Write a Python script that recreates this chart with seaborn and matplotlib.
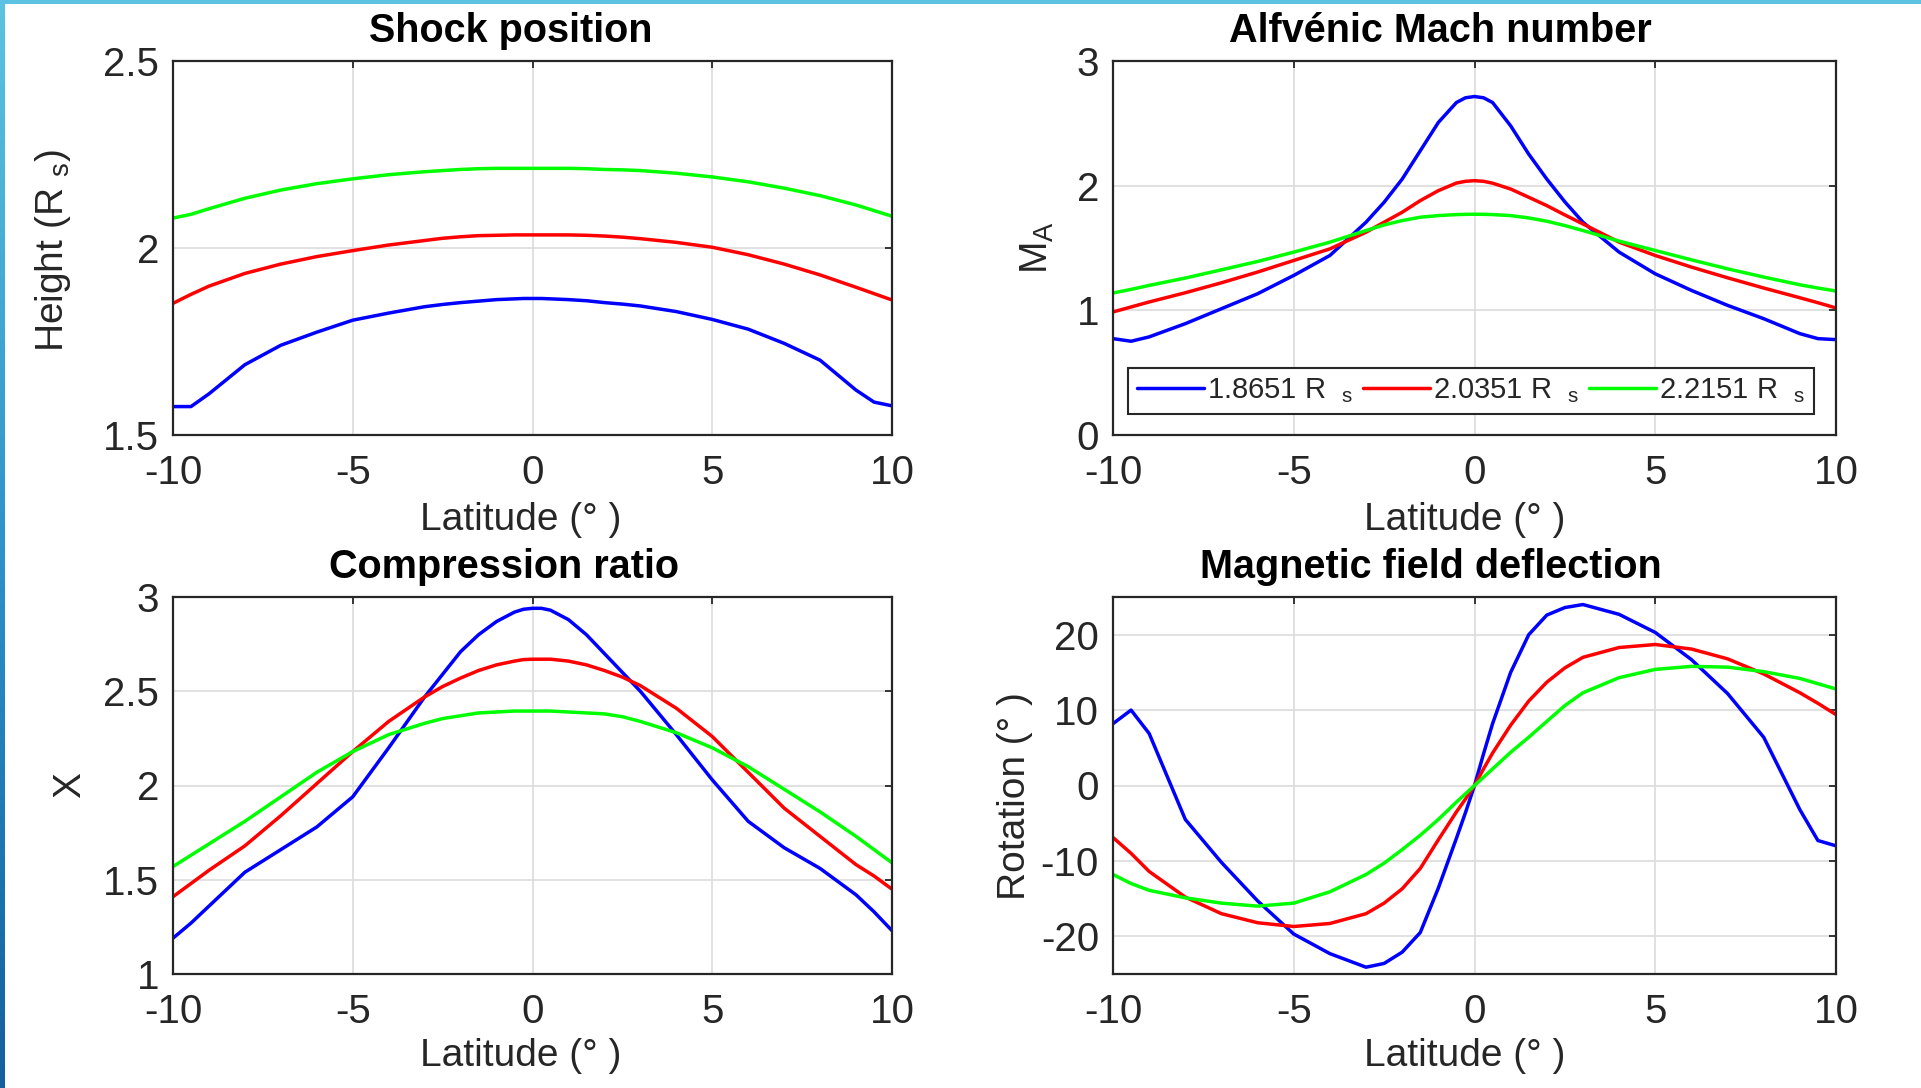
import numpy as np
import pandas as pd
import matplotlib
matplotlib.use("Agg")
import matplotlib.pyplot as plt
import seaborn as sns
from matplotlib.patches import Rectangle
from matplotlib.ticker import FuncFormatter
from matplotlib.colors import LinearSegmentedColormap

# ---------------- data ----------------
lat = [-10, -9.5, -9, -8, -7, -6, -5, -4, -3, -2.5, -2, -1.5, -1, -0.5, -0.25, 0,
       0.25, 0.5, 1, 1.5, 2, 2.5, 3, 4, 5, 6, 7, 8, 9, 9.5, 10]
radii = ["1.8651", "2.0351", "2.2151"]

shock_blue = [1.576, 1.576, 1.61, 1.688, 1.74, 1.775, 1.807, 1.826, 1.843, 1.849, 1.854, 1.858, 1.862, 1.864, 1.865, 1.865,
              1.865, 1.864, 1.862, 1.859, 1.854, 1.850, 1.845, 1.83, 1.809, 1.783, 1.745, 1.70, 1.62, 1.588, 1.578]
shock_red = [1.852, 1.876, 1.898, 1.932, 1.957, 1.977, 1.993, 2.008, 2.02, 2.026, 2.03, 2.033, 2.034, 2.035, 2.035, 2.035,
             2.035, 2.035, 2.035, 2.034, 2.032, 2.029, 2.025, 2.015, 2.002, 1.982, 1.957, 1.928, 1.895, 1.878, 1.861]
shock_green = [2.08, 2.09, 2.105, 2.133, 2.155, 2.172, 2.185, 2.196, 2.204, 2.207, 2.21, 2.212, 2.213, 2.213, 2.213, 2.213,
               2.213, 2.213, 2.213, 2.212, 2.21, 2.209, 2.207, 2.2, 2.19, 2.177, 2.16, 2.14, 2.115, 2.10, 2.085]

mach_blue = [0.773, 0.752, 0.787, 0.893, 1.013, 1.133, 1.28, 1.44, 1.707, 1.867, 2.053, 2.28, 2.507, 2.667, 2.705, 2.715,
             2.705, 2.667, 2.48, 2.253, 2.053, 1.87, 1.707, 1.467, 1.293, 1.16, 1.04, 0.933, 0.813, 0.773, 0.765]
mach_red = [0.987, 1.027, 1.067, 1.141, 1.221, 1.307, 1.40, 1.493, 1.627, 1.707, 1.787, 1.88, 1.96, 2.021, 2.035, 2.04,
            2.035, 2.02, 1.973, 1.907, 1.84, 1.765, 1.693, 1.547, 1.44, 1.347, 1.261, 1.179, 1.101, 1.061, 1.019]
mach_green = [1.139, 1.168, 1.20, 1.259, 1.325, 1.392, 1.467, 1.547, 1.64, 1.685, 1.72, 1.747, 1.76, 1.768, 1.77, 1.771,
              1.77, 1.768, 1.76, 1.741, 1.715, 1.68, 1.64, 1.555, 1.48, 1.405, 1.333, 1.267, 1.205, 1.179, 1.155]

comp_blue = [1.19, 1.27, 1.36, 1.54, 1.66, 1.78, 1.94, 2.2, 2.47, 2.59, 2.71, 2.8, 2.87, 2.92, 2.935, 2.94,
             2.94, 2.93, 2.88, 2.8, 2.7, 2.6, 2.5, 2.27, 2.03, 1.81, 1.67, 1.56, 1.42, 1.33, 1.23]
comp_red = [1.41, 1.48, 1.55, 1.68, 1.84, 2.01, 2.18, 2.34, 2.47, 2.525, 2.57, 2.61, 2.64, 2.66, 2.668, 2.67,
            2.67, 2.67, 2.66, 2.64, 2.61, 2.575, 2.53, 2.41, 2.26, 2.07, 1.88, 1.73, 1.58, 1.52, 1.45]
comp_green = [1.57, 1.63, 1.69, 1.81, 1.94, 2.07, 2.18, 2.27, 2.33, 2.355, 2.37, 2.385, 2.39, 2.395, 2.395, 2.395,
              2.395, 2.395, 2.39, 2.385, 2.38, 2.365, 2.34, 2.28, 2.2, 2.1, 1.98, 1.86, 1.73, 1.66, 1.59]

rot_blue = [8.2, 10.0, 6.9, -4.5, -10.2, -15.3, -19.7, -22.3, -24.1, -23.6, -22.1, -19.5, -13.6, -7.0, -3.6, 0.0,
            4.2, 8.2, 15.0, 20.0, 22.6, 23.6, 24.0, 22.7, 20.3, 16.7, 12.2, 6.4, -3.2, -7.3, -8.0]
rot_red = [-6.9, -9.0, -11.4, -14.8, -17.0, -18.2, -18.7, -18.3, -17.0, -15.6, -13.7, -11.0, -7.2, -3.5, -1.8, 0.0,
           2.2, 4.3, 8.0, 11.2, 13.7, 15.6, 17.0, 18.3, 18.7, 18.1, 16.8, 14.8, 12.3, 10.9, 9.4]
rot_green = [-11.8, -13.0, -13.9, -14.9, -15.6, -16.0, -15.6, -14.1, -11.8, -10.3, -8.5, -6.6, -4.5, -2.2, -1.1, 0.0,
             1.1, 2.2, 4.4, 6.4, 8.5, 10.6, 12.3, 14.3, 15.4, 15.8, 15.7, 15.1, 14.2, 13.5, 12.8]

# ---------------- style ----------------
sns.set_style("white")
plt.rcParams["font.family"] = ["Liberation Sans", "DejaVu Sans"]
plt.rcParams["mathtext.fontset"] = "custom"
plt.rcParams["mathtext.rm"] = "Liberation Sans"
plt.rcParams["mathtext.it"] = "Liberation Sans"
plt.rcParams["axes.unicode_minus"] = False

INK = "#262626"
palette = {"1.8651": "#0000ff", "2.0351": "#ff0000", "2.2151": "#00ff00"}

fig = plt.figure(figsize=(19.21, 10.88), dpi=100)
W, H = 1921, 1088


def ax_at(x0, x1, ytop, ybot):
    return fig.add_axes([x0 / W, 1 - ybot / H, (x1 - x0) / W, (ybot - ytop) / H])


def frame(df_vals):
    rows = []
    for r, vals in zip(radii, df_vals):
        for la, v in zip(lat, vals):
            rows.append({"lat": la, "val": v, "radius": r})
    return pd.DataFrame(rows)


panels = [
    dict(pos=(173, 892, 61, 435), vals=(shock_blue, shock_red, shock_green), ylim=(1.5, 2.5),
         yt=[1.5, 2, 2.5], title="Shock position", tx=0.470,
         ylabel=r"Height (R $_{\mathregular{s}}$)", ylx=-0.167, yly=0.492,
         xlx=0.484, xly=-0.226),
    dict(pos=(1113, 1836, 61, 435), vals=(mach_blue, mach_red, mach_green), ylim=(0, 3),
         yt=[0, 1, 2, 3], title="Alfvénic Mach number", tx=0.453,
         ylabel=r"M$_{\mathregular{A}}$", ylx=-0.104, yly=0.5,
         xlx=0.487, xly=-0.226),
    dict(pos=(173, 892, 597, 974), vals=(comp_blue, comp_red, comp_green), ylim=(1, 3),
         yt=[1, 1.5, 2, 2.5, 3], title="Compression ratio", tx=0.461,
         ylabel="X", ylx=-0.143, yly=0.5,
         xlx=0.484, xly=-0.2175),
    dict(pos=(1113, 1836, 597, 974), vals=(rot_blue, rot_red, rot_green), ylim=(-25, 25),
         yt=[-20, -10, 0, 10, 20], title="Magnetic field deflection", tx=0.439,
         ylabel="Rotation (° )", ylx=-0.136, yly=0.472,
         xlx=0.487, xly=-0.2175),
]

axes = []
for p in panels:
    ax = ax_at(*p["pos"])
    df = frame(p["vals"])
    sns.lineplot(data=df, x="lat", y="val", hue="radius", palette=palette, ax=ax,
                 legend=False, linewidth=2.5, sort=False)
    ax.set_xlim(-10, 10)
    ax.set_ylim(*p["ylim"])
    ax.set_xticks([-10, -5, 0, 5, 10])
    ax.set_yticks(p["yt"])
    fmt = FuncFormatter(lambda v, pos: "%g" % v)
    ax.xaxis.set_major_formatter(fmt)
    ax.yaxis.set_major_formatter(fmt)
    ax.grid(True, color="#dcdcdc", linewidth=1.2)
    ax.set_axisbelow(True)
    for s in ax.spines.values():
        s.set_visible(True)
        s.set_color(INK)
        s.set_linewidth(1.6)
    ax.tick_params(axis="both", which="major", direction="in", length=5, width=1.3,
                   color=INK, labelcolor=INK, labelsize=29, top=True, right=True)
    ax.tick_params(axis="x", pad=14)
    ax.tick_params(axis="y", pad=10)
    ax.set_title(p["title"], fontsize=28.5, fontweight="bold", color="black", pad=14,
                 x=p["tx"])
    ax.set_xlabel("Latitude (° )", fontsize=28, color=INK)
    ax.set_ylabel(p["ylabel"], fontsize=28, color=INK)
    ax.xaxis.set_label_coords(p["xlx"], p["xly"])
    ax.xaxis.label.set_va("center")
    ax.yaxis.set_label_coords(p["ylx"], p["yly"])
    ax.yaxis.label.set_va("center")
    axes.append(ax)

# legend in the Mach number panel
ax = axes[1]
labels = [r"%s R  $_{\mathregular{s}}$" % r for r in radii]
leg = ax.legend(ax.get_lines()[:3], labels, loc="lower left",
                bbox_to_anchor=(0.021, 0.056, 0.949, 0.142), mode="expand", ncol=3,
                borderaxespad=0, fontsize=21, handlelength=2.3, handletextpad=0.1,
                columnspacing=0.2, fancybox=False, framealpha=1, borderpad=0.3)
leg.get_frame().set_edgecolor(INK)
leg.get_frame().set_linewidth(1.5)
for t in leg.get_texts():
    t.set_color(INK)

# decorative border (top strip + left gradient strip)
fig.patches.append(Rectangle((0, 1 - 4 / H), 1, 4 / H, transform=fig.transFigure,
                             facecolor="#5bc3e1", edgecolor="none", zorder=10))
bax = fig.add_axes([0, 0, 5 / W, 1 - 4 / H])
grad = np.linspace(0, 1, 256).reshape(-1, 1)
cmap = LinearSegmentedColormap.from_list("edge", ["#5bc3e1", "#2f92c8", "#13609c"])
bax.imshow(grad, aspect="auto", cmap=cmap, origin="upper")
bax.set_axis_off()

fig.savefig("out.png", dpi=100)
